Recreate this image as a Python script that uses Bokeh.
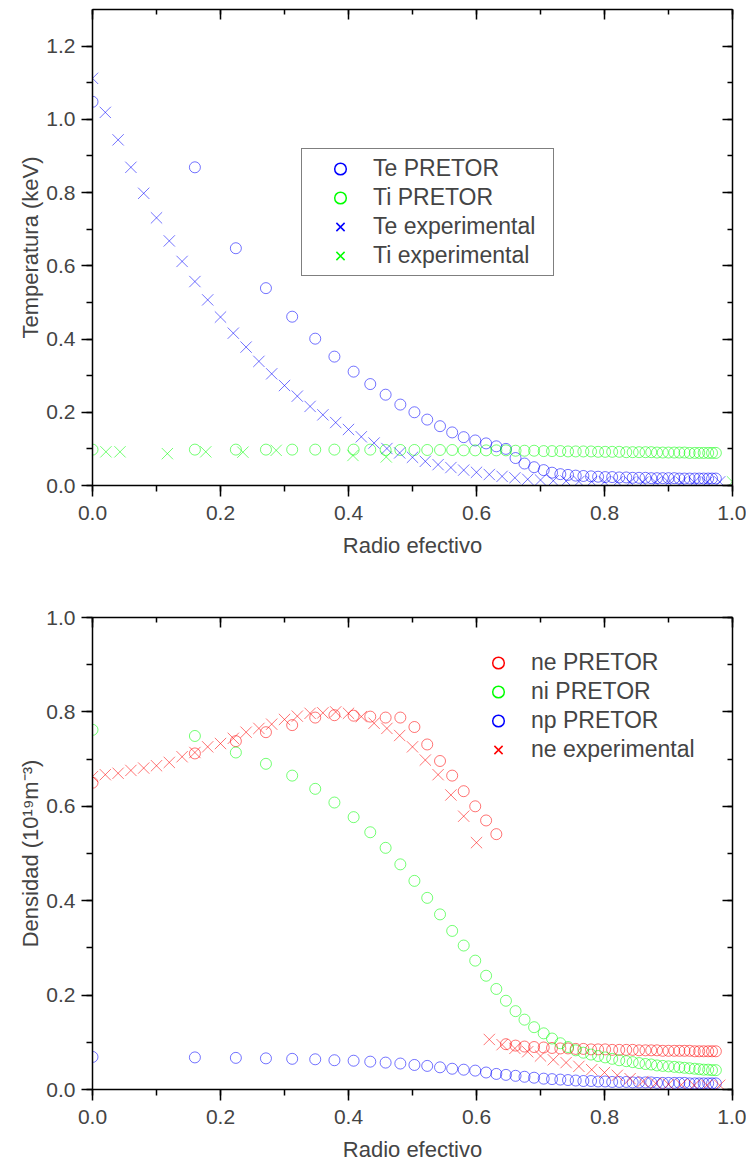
from bokeh.plotting import figure
from bokeh.models import (Range1d, LinearAxis, SingleIntervalTicker, PrintfTickFormatter,
                          Legend, LegendItem, CustomJSTickFormatter)
from bokeh.layouts import column
from bokeh.embed import file_html
from bokeh.resources import INLINE

FONT = "Liberation Sans"

# ---------------- data ----------------
rho_pretor = [0.000, 0.160, 0.224, 0.271, 0.312, 0.348, 0.378, 0.408, 0.434, 0.458,
              0.481, 0.503, 0.523, 0.543, 0.562, 0.580, 0.598, 0.615, 0.631, 0.646,
              0.661, 0.675, 0.690, 0.705, 0.718, 0.731, 0.743, 0.755, 0.767, 0.779,
              0.790, 0.801, 0.812, 0.823, 0.834, 0.844, 0.854, 0.864, 0.873, 0.882,
              0.891, 0.900, 0.909, 0.917, 0.925, 0.933, 0.941, 0.948, 0.955, 0.962,
              0.968, 0.974]

te_pretor = [1.048, 0.869, 0.648, 0.539, 0.461, 0.401, 0.352, 0.311, 0.277, 0.248,
             0.221, 0.200, 0.180, 0.162, 0.145, 0.132, 0.123, 0.115, 0.107, 0.100,
             0.075, 0.060, 0.050, 0.042, 0.035, 0.031, 0.029, 0.027, 0.026, 0.025,
             0.024, 0.023, 0.023, 0.022, 0.022, 0.021, 0.021, 0.021, 0.020, 0.020,
             0.020, 0.020, 0.020, 0.019, 0.019, 0.019, 0.019, 0.019, 0.019, 0.019,
             0.019, 0.019]

ti_pretor = [0.098, 0.098, 0.098, 0.098, 0.098, 0.098, 0.098, 0.098, 0.098, 0.097,
             0.097, 0.097, 0.097, 0.097, 0.097, 0.096, 0.096, 0.096, 0.096, 0.096,
             0.095, 0.095, 0.095, 0.094, 0.094, 0.094, 0.093, 0.093, 0.093, 0.093,
             0.092, 0.092, 0.092, 0.092, 0.091, 0.091, 0.091, 0.091, 0.091, 0.090,
             0.090, 0.090, 0.090, 0.090, 0.090, 0.089, 0.089, 0.089, 0.089, 0.089,
             0.089, 0.089]

rho_te_exp = [0.00, 0.02, 0.04, 0.06, 0.08, 0.10, 0.12, 0.14, 0.16, 0.18,
              0.20, 0.22, 0.24, 0.26, 0.28, 0.30, 0.32, 0.34, 0.36, 0.38,
              0.40, 0.42, 0.44, 0.46, 0.48, 0.50, 0.52, 0.54, 0.56, 0.58,
              0.60, 0.62, 0.64, 0.66, 0.68, 0.70, 0.72, 0.74, 0.76, 0.78,
              0.80, 0.82, 0.84, 0.86, 0.88, 0.90, 0.92, 0.94, 0.96, 0.98]
te_exp = [1.112, 1.019, 0.944, 0.869, 0.798, 0.731, 0.668, 0.612, 0.557, 0.507,
          0.460, 0.416, 0.378, 0.339, 0.305, 0.273, 0.244, 0.216, 0.193, 0.172,
          0.153, 0.133, 0.116, 0.101, 0.089, 0.077, 0.066, 0.057, 0.049, 0.042,
          0.036, 0.030, 0.025, 0.021, 0.017, 0.015, 0.013, 0.012, 0.011, 0.011,
          0.010, 0.010, 0.009, 0.009, 0.009, 0.009, 0.009, 0.009, 0.009, 0.010]

rho_ti_exp = [0.021, 0.043, 0.117, 0.177, 0.235, 0.287, 0.407, 0.459, 1.000]
ti_exp = [0.092, 0.092, 0.087, 0.092, 0.091, 0.096, 0.082, 0.078, 0.010]

ne_pretor = [0.650, 0.712, 0.738, 0.757, 0.772, 0.788, 0.793, 0.792, 0.790, 0.788,
             0.788, 0.768, 0.731, 0.696, 0.665, 0.632, 0.600, 0.570, 0.541, 0.096,
             0.093, 0.091, 0.090, 0.089, 0.088, 0.087, 0.087, 0.086, 0.086, 0.085,
             0.085, 0.085, 0.084, 0.084, 0.084, 0.084, 0.083, 0.083, 0.083, 0.083,
             0.082, 0.082, 0.082, 0.082, 0.082, 0.082, 0.081, 0.081, 0.081, 0.081,
             0.081, 0.081]

ni_pretor = [0.762, 0.749, 0.714, 0.690, 0.665, 0.637, 0.608, 0.577, 0.545, 0.512,
             0.477, 0.442, 0.406, 0.371, 0.336, 0.305, 0.273, 0.241, 0.213, 0.188,
             0.166, 0.148, 0.132, 0.119, 0.108, 0.098, 0.090, 0.083, 0.078, 0.074,
             0.071, 0.068, 0.065, 0.062, 0.060, 0.058, 0.056, 0.054, 0.053, 0.051,
             0.050, 0.049, 0.048, 0.047, 0.046, 0.045, 0.044, 0.043, 0.042, 0.042,
             0.041, 0.041]

np_pretor = [0.069, 0.068, 0.067, 0.066, 0.065, 0.064, 0.062, 0.061, 0.059, 0.057,
             0.055, 0.052, 0.050, 0.047, 0.044, 0.042, 0.040, 0.036, 0.033, 0.031,
             0.029, 0.027, 0.025, 0.023, 0.022, 0.021, 0.020, 0.019, 0.018, 0.018,
             0.017, 0.017, 0.016, 0.016, 0.016, 0.015, 0.015, 0.015, 0.015, 0.014,
             0.014, 0.014, 0.014, 0.014, 0.014, 0.013, 0.013, 0.013, 0.013, 0.013,
             0.013, 0.013]

rho_ne_exp = [0.00, 0.02, 0.04, 0.06, 0.08, 0.10, 0.12, 0.14, 0.16, 0.18,
              0.20, 0.22, 0.24, 0.26, 0.28, 0.30, 0.32, 0.34, 0.36, 0.38,
              0.40, 0.42, 0.44, 0.46, 0.48, 0.50, 0.52, 0.54, 0.56, 0.58,
              0.60, 0.62, 0.64, 0.66, 0.68, 0.70, 0.72, 0.74, 0.76, 0.78,
              0.80, 0.82, 0.84, 0.86, 0.88, 0.90, 0.92, 0.94, 0.96, 0.98]
ne_exp = [0.663, 0.667, 0.670, 0.676, 0.681, 0.686, 0.693, 0.705, 0.714, 0.726,
          0.733, 0.744, 0.757, 0.765, 0.774, 0.784, 0.791, 0.797, 0.798, 0.800,
          0.797, 0.790, 0.776, 0.765, 0.750, 0.726, 0.698, 0.667, 0.624, 0.579,
          0.523, 0.106, 0.095, 0.087, 0.080, 0.071, 0.063, 0.057, 0.049, 0.042,
          0.036, 0.030, 0.023, 0.017, 0.013, 0.011, 0.010, 0.009, 0.009, 0.009]

x_label = "Radio efectivo"
y_label_top = "Temperatura (keV)"
y_label_bottom = "Densidad (10\u00b9\u2079m\u207b\u00b3)"
legend_top = ["Te PRETOR", "Ti PRETOR", "Te experimental", "Ti experimental"]
legend_bottom = ["ne PRETOR", "ni PRETOR", "np PRETOR", "ne experimental"]

DATA_ALPHA = 0.55
NAN = float("nan")


def ticker():
    return SingleIntervalTicker(interval=0.2, num_minor_ticks=2)


def add_axes(p, ylabel):
    common = dict(axis_line_width=1.5, major_tick_line_width=1.5, minor_tick_line_width=1.5,
                  axis_line_color="black", major_tick_line_color="black",
                  minor_tick_line_color="black")
    bottom = LinearAxis(ticker=ticker(), formatter=PrintfTickFormatter(format="%.1f"),
                        axis_label=x_label, major_tick_out=11, major_tick_in=0,
                        minor_tick_out=6, minor_tick_in=0, major_label_standoff=9,
                        major_label_text_font=FONT, major_label_text_font_size="21px",
                        axis_label_text_font=FONT, axis_label_text_font_size="22px",
                        axis_label_text_font_style="normal", axis_label_standoff=10, **common)
    left = LinearAxis(ticker=ticker(), formatter=PrintfTickFormatter(format="%.1f"),
                      axis_label=ylabel, major_tick_out=11, major_tick_in=0,
                      minor_tick_out=6, minor_tick_in=0, major_label_standoff=6,
                      major_label_text_font=FONT, major_label_text_font_size="21px",
                      axis_label_text_font=FONT, axis_label_text_font_size="22px",
                      axis_label_text_font_style="normal", axis_label_standoff=0, **common)
    top = LinearAxis(ticker=ticker(), formatter=CustomJSTickFormatter(code="return ''"),
                     major_tick_out=0, major_tick_in=10,
                     minor_tick_out=0, minor_tick_in=5, major_label_text_font_size="0px",
                     major_label_standoff=0, **common)
    right = LinearAxis(ticker=ticker(), formatter=CustomJSTickFormatter(code="return ''"),
                       major_tick_out=0, major_tick_in=10,
                       minor_tick_out=0, minor_tick_in=5, major_label_text_font_size="0px",
                       major_label_standoff=0, **common)
    p.add_layout(bottom, "below")
    p.add_layout(left, "left")
    p.add_layout(top, "above")
    p.add_layout(right, "right")


def make_fig(height, top_border, bottom_border, ymax):
    p = figure(width=746, height=height, x_range=Range1d(0, 1), y_range=Range1d(0, ymax),
               output_backend="svg", toolbar_location=None,
               x_axis_location=None, y_axis_location=None,
               min_border_left=92, min_border_right=14,
               min_border_top=top_border, min_border_bottom=bottom_border)
    p.xgrid.visible = False
    p.ygrid.visible = False
    p.outline_line_color = None
    p.background_fill_color = "white"
    p.border_fill_color = "white"
    return p


def circles(p, x, y, color):
    p.scatter(x, y, marker="circle", size=11, fill_color=None, line_color=color,
              line_width=1, line_alpha=DATA_ALPHA)


def crosses(p, x, y, color):
    p.scatter(x, y, marker="x", size=16, line_color=color, line_width=1, line_alpha=DATA_ALPHA)


def legend_renderer(p, marker, color):
    # placeholder renderer (no visible data) used only for the legend swatch
    return p.scatter([NAN], [NAN], marker=marker, size=14, fill_color=None, line_color=color,
                     line_width=1.5)


def make_legend(p, labels, markers, colors, loc, border):
    items = []
    for lab, m, c in zip(labels, markers, colors):
        r = legend_renderer(p, m, c)
        items.append(LegendItem(label=lab, renderers=[r]))
    leg = Legend(items=items, location=loc, padding=5, spacing=0, glyph_width=66,
                 glyph_height=29, label_standoff=0, label_width=175, label_text_font=FONT,
                 label_text_font_size="23px", margin=0,
                 border_line_color="black" if border else None, border_line_width=1.5,
                 background_fill_color="white", background_fill_alpha=1.0 if border else 0.0)
    p.add_layout(leg)


# ---------------- top panel ----------------
p1 = make_fig(560, 9, 74, 1.3)
add_axes(p1, y_label_top)
circles(p1, rho_pretor, te_pretor, "blue")
circles(p1, rho_pretor, ti_pretor, "lime")
crosses(p1, rho_te_exp, te_exp, "blue")
crosses(p1, rho_ti_exp, ti_exp, "lime")
make_legend(p1, legend_top, ["circle", "circle", "x", "x"],
            ["blue", "lime", "blue", "lime"], (209, 209), True)

# ---------------- bottom panel ----------------
p2 = make_fig(604, 57, 73, 1.0)
add_axes(p2, y_label_bottom)
circles(p2, rho_pretor, ne_pretor, "red")
circles(p2, rho_pretor, ni_pretor, "lime")
circles(p2, rho_pretor, np_pretor, "blue")
crosses(p2, rho_ne_exp, ne_exp, "red")
make_legend(p2, legend_bottom, ["circle", "circle", "circle", "x"],
            ["red", "lime", "blue", "red"], (373, 325), False)

layout = column(p1, p2, spacing=0)
open("out.html", "w").write(file_html(layout, INLINE))
